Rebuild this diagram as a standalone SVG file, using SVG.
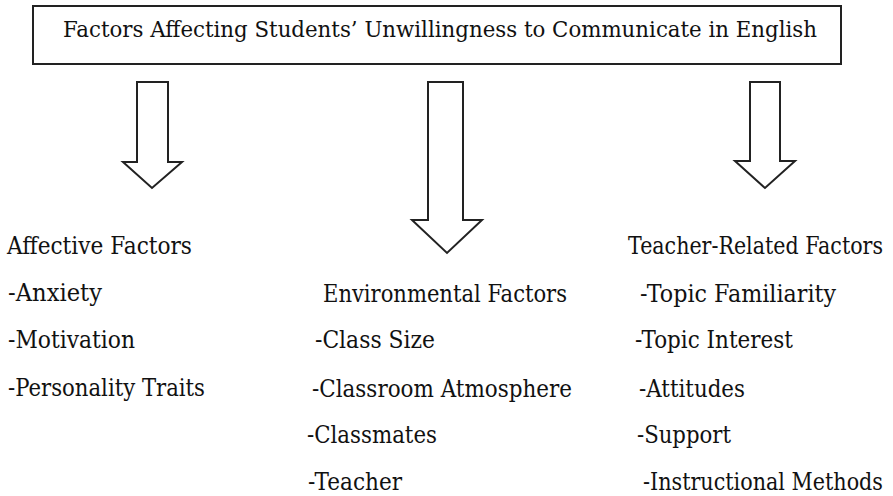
<svg xmlns="http://www.w3.org/2000/svg" width="893" height="496" viewBox="0 0 893 496">
<style>
  .t{font-family:'DejaVu Serif','Liberation Serif',serif;font-size:24px;fill:#111}
  .title{font-family:'DejaVu Serif','Liberation Serif',serif;font-size:22px;fill:#111}
  .box{fill:#fff;stroke:#222;stroke-width:2}
  .arr{fill:#fff;stroke:#222;stroke-width:2;stroke-linejoin:miter}
</style>
<rect width="893" height="496" fill="#fff"/>
<g id="title">
  <rect class="box" x="33" y="6" width="808" height="58"/>
  <text class="title" x="63" y="37" textLength="754" lengthAdjust="spacingAndGlyphs">Factors Affecting Students’ Unwillingness to Communicate in English</text>
</g>
<g id="connectors">
  <polygon class="arr" points="137,82 168,82 168,162 182,162 152,188 123,162 137,162"/>
  <polygon class="arr" points="428,82 463,82 463,220 482,220 447,253 412,220 428,220"/>
  <polygon class="arr" points="750,82 780,82 780,161 795,161 765,188 735,161 750,161"/>
</g>
<g id="affective">
  <text class="t" x="7" y="254" textLength="185" lengthAdjust="spacingAndGlyphs">Affective Factors</text>
  <text class="t" x="8" y="301" textLength="94" lengthAdjust="spacingAndGlyphs">-Anxiety</text>
  <text class="t" x="8" y="348" textLength="127" lengthAdjust="spacingAndGlyphs">-Motivation</text>
  <text class="t" x="8" y="396" textLength="197" lengthAdjust="spacingAndGlyphs">-Personality Traits</text>
</g>
<g id="environmental">
  <text class="t" x="323" y="302" textLength="244" lengthAdjust="spacingAndGlyphs">Environmental Factors</text>
  <text class="t" x="315" y="348" textLength="120" lengthAdjust="spacingAndGlyphs">-Class Size</text>
  <text class="t" x="312" y="397" textLength="260" lengthAdjust="spacingAndGlyphs">-Classroom Atmosphere</text>
  <text class="t" x="307" y="443" textLength="130" lengthAdjust="spacingAndGlyphs">-Classmates</text>
  <text class="t" x="308" y="490" textLength="94" lengthAdjust="spacingAndGlyphs">-Teacher</text>
</g>
<g id="teacher">
  <text class="t" x="628" y="254" textLength="255" lengthAdjust="spacingAndGlyphs">Teacher-Related Factors</text>
  <text class="t" x="640" y="302" textLength="196" lengthAdjust="spacingAndGlyphs">-Topic Familiarity</text>
  <text class="t" x="635" y="348" textLength="158" lengthAdjust="spacingAndGlyphs">-Topic Interest</text>
  <text class="t" x="639" y="397" textLength="106" lengthAdjust="spacingAndGlyphs">-Attitudes</text>
  <text class="t" x="637" y="443" textLength="94" lengthAdjust="spacingAndGlyphs">-Support</text>
  <text class="t" x="643" y="490" textLength="240" lengthAdjust="spacingAndGlyphs">-Instructional Methods</text>
</g>
</svg>
